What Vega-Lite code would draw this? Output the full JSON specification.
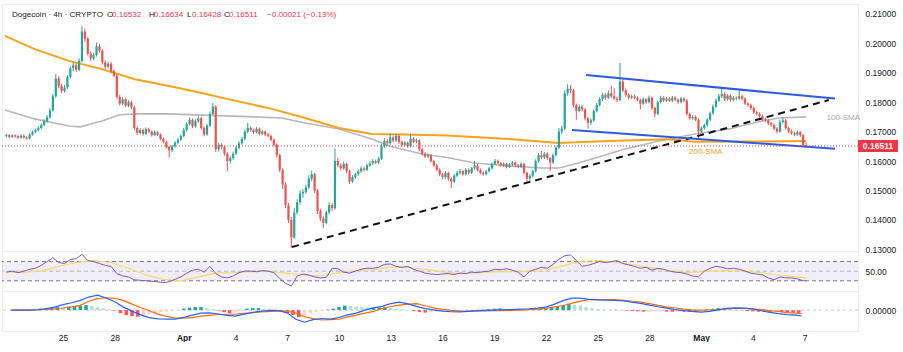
{
"$schema":"https://vega.github.io/schema/vega-lite/v6.json",
"background":"#ffffff",
"padding":{"top":3,"left":0,"right":0,"bottom":0},
"spacing":0,
"bounds":"flush",
"config":{"font":"Liberation Sans","view":{"stroke":"#ececec"},"axis":{"labelFont":"Liberation Sans","labelFontSize":8.5,"labelColor":"#131722","ticks":false,"domain":false,"grid":false,"labelOverlap":false}},
"datasets":{
"candles":[
{"t":"2025-03-22T00:00","o":0.1685,"h":0.1693,"l":0.1680,"c":0.1688},
{"t":"2025-03-22T04:00","o":0.1688,"h":0.1692,"l":0.1677,"c":0.1682},
{"t":"2025-03-22T08:00","o":0.1682,"h":0.1691,"l":0.1678,"c":0.1687},
{"t":"2025-03-22T12:00","o":0.1687,"h":0.1690,"l":0.1679,"c":0.1684},
{"t":"2025-03-22T16:00","o":0.1684,"h":0.1688,"l":0.1674,"c":0.1679},
{"t":"2025-03-22T20:00","o":0.1679,"h":0.1690,"l":0.1676,"c":0.1686},
{"t":"2025-03-23T00:00","o":0.1686,"h":0.1690,"l":0.1676,"c":0.1680},
{"t":"2025-03-23T04:00","o":0.1680,"h":0.1684,"l":0.1672,"c":0.1676},
{"t":"2025-03-23T08:00","o":0.1676,"h":0.1694,"l":0.1673,"c":0.1690},
{"t":"2025-03-23T12:00","o":0.1690,"h":0.1703,"l":0.1686,"c":0.1698},
{"t":"2025-03-23T16:00","o":0.1698,"h":0.1710,"l":0.1694,"c":0.1705},
{"t":"2025-03-23T20:00","o":0.1705,"h":0.1718,"l":0.1701,"c":0.1712},
{"t":"2025-03-24T00:00","o":0.1712,"h":0.1728,"l":0.1708,"c":0.1722},
{"t":"2025-03-24T04:00","o":0.1722,"h":0.1742,"l":0.1718,"c":0.1735},
{"t":"2025-03-24T08:00","o":0.1735,"h":0.1756,"l":0.1730,"c":0.1748},
{"t":"2025-03-24T12:00","o":0.1748,"h":0.1780,"l":0.1744,"c":0.1772},
{"t":"2025-03-24T16:00","o":0.1772,"h":0.1828,"l":0.1768,"c":0.1820},
{"t":"2025-03-24T20:00","o":0.1820,"h":0.1895,"l":0.1815,"c":0.1880},
{"t":"2025-03-25T00:00","o":0.1880,"h":0.1888,"l":0.1848,"c":0.1855},
{"t":"2025-03-25T04:00","o":0.1855,"h":0.1862,"l":0.1830,"c":0.1838},
{"t":"2025-03-25T08:00","o":0.1838,"h":0.1858,"l":0.1832,"c":0.1850},
{"t":"2025-03-25T12:00","o":0.1850,"h":0.1892,"l":0.1845,"c":0.1885},
{"t":"2025-03-25T16:00","o":0.1885,"h":0.1922,"l":0.1880,"c":0.1915},
{"t":"2025-03-25T20:00","o":0.1915,"h":0.1935,"l":0.1905,"c":0.1925},
{"t":"2025-03-26T00:00","o":0.1925,"h":0.1932,"l":0.1902,"c":0.1910},
{"t":"2025-03-26T04:00","o":0.1910,"h":0.1948,"l":0.1905,"c":0.1940},
{"t":"2025-03-26T08:00","o":0.1940,"h":0.2058,"l":0.1935,"c":0.2040},
{"t":"2025-03-26T12:00","o":0.2040,"h":0.2050,"l":0.2005,"c":0.2015},
{"t":"2025-03-26T16:00","o":0.2015,"h":0.2022,"l":0.1958,"c":0.1965},
{"t":"2025-03-26T20:00","o":0.1965,"h":0.1972,"l":0.1940,"c":0.1948},
{"t":"2025-03-27T00:00","o":0.1948,"h":0.1968,"l":0.1942,"c":0.1960},
{"t":"2025-03-27T04:00","o":0.1960,"h":0.2002,"l":0.1955,"c":0.1990},
{"t":"2025-03-27T08:00","o":0.1990,"h":0.1998,"l":0.1968,"c":0.1975},
{"t":"2025-03-27T12:00","o":0.1975,"h":0.1980,"l":0.1928,"c":0.1935},
{"t":"2025-03-27T16:00","o":0.1935,"h":0.1942,"l":0.1912,"c":0.1920},
{"t":"2025-03-27T20:00","o":0.1920,"h":0.1938,"l":0.1914,"c":0.1930},
{"t":"2025-03-28T00:00","o":0.1930,"h":0.1936,"l":0.1898,"c":0.1905},
{"t":"2025-03-28T04:00","o":0.1905,"h":0.1912,"l":0.1884,"c":0.1890},
{"t":"2025-03-28T08:00","o":0.1890,"h":0.1895,"l":0.1810,"c":0.1818},
{"t":"2025-03-28T12:00","o":0.1818,"h":0.1825,"l":0.1788,"c":0.1795},
{"t":"2025-03-28T16:00","o":0.1795,"h":0.1818,"l":0.1790,"c":0.1810},
{"t":"2025-03-28T20:00","o":0.1810,"h":0.1815,"l":0.1782,"c":0.1788},
{"t":"2025-03-29T00:00","o":0.1788,"h":0.1806,"l":0.1783,"c":0.1800},
{"t":"2025-03-29T04:00","o":0.1800,"h":0.1805,"l":0.1776,"c":0.1782},
{"t":"2025-03-29T08:00","o":0.1782,"h":0.1788,"l":0.1705,"c":0.1712},
{"t":"2025-03-29T12:00","o":0.1712,"h":0.1718,"l":0.1688,"c":0.1695},
{"t":"2025-03-29T16:00","o":0.1695,"h":0.1712,"l":0.1690,"c":0.1705},
{"t":"2025-03-29T20:00","o":0.1705,"h":0.1710,"l":0.1686,"c":0.1692},
{"t":"2025-03-30T00:00","o":0.1692,"h":0.1714,"l":0.1688,"c":0.1708},
{"t":"2025-03-30T04:00","o":0.1708,"h":0.1713,"l":0.1695,"c":0.1700},
{"t":"2025-03-30T08:00","o":0.1700,"h":0.1704,"l":0.1683,"c":0.1688},
{"t":"2025-03-30T12:00","o":0.1688,"h":0.1704,"l":0.1684,"c":0.1698},
{"t":"2025-03-30T16:00","o":0.1698,"h":0.1702,"l":0.1685,"c":0.1690},
{"t":"2025-03-30T20:00","o":0.1690,"h":0.1694,"l":0.1670,"c":0.1675},
{"t":"2025-03-31T00:00","o":0.1675,"h":0.1680,"l":0.1660,"c":0.1665},
{"t":"2025-03-31T04:00","o":0.1665,"h":0.1670,"l":0.1642,"c":0.1648},
{"t":"2025-03-31T08:00","o":0.1648,"h":0.1652,"l":0.1612,"c":0.1636},
{"t":"2025-03-31T12:00","o":0.1636,"h":0.1655,"l":0.1630,"c":0.1650},
{"t":"2025-03-31T16:00","o":0.1650,"h":0.1668,"l":0.1645,"c":0.1662},
{"t":"2025-03-31T20:00","o":0.1662,"h":0.1678,"l":0.1657,"c":0.1672},
{"t":"2025-04-01T00:00","o":0.1672,"h":0.1690,"l":0.1668,"c":0.1685},
{"t":"2025-04-01T04:00","o":0.1685,"h":0.1712,"l":0.1680,"c":0.1705},
{"t":"2025-04-01T08:00","o":0.1705,"h":0.1732,"l":0.1700,"c":0.1725},
{"t":"2025-04-01T12:00","o":0.1725,"h":0.1748,"l":0.1720,"c":0.1740},
{"t":"2025-04-01T16:00","o":0.1740,"h":0.1745,"l":0.1712,"c":0.1718},
{"t":"2025-04-01T20:00","o":0.1718,"h":0.1742,"l":0.1713,"c":0.1735},
{"t":"2025-04-02T00:00","o":0.1735,"h":0.1752,"l":0.1730,"c":0.1745},
{"t":"2025-04-02T04:00","o":0.1745,"h":0.1750,"l":0.1706,"c":0.1712},
{"t":"2025-04-02T08:00","o":0.1712,"h":0.1718,"l":0.1684,"c":0.1690},
{"t":"2025-04-02T12:00","o":0.1690,"h":0.1726,"l":0.1686,"c":0.1720},
{"t":"2025-04-02T16:00","o":0.1720,"h":0.1768,"l":0.1715,"c":0.1760},
{"t":"2025-04-02T20:00","o":0.1760,"h":0.1797,"l":0.1755,"c":0.1785},
{"t":"2025-04-03T00:00","o":0.1785,"h":0.1790,"l":0.1630,"c":0.1640},
{"t":"2025-04-03T04:00","o":0.1640,"h":0.1662,"l":0.1632,"c":0.1655},
{"t":"2025-04-03T08:00","o":0.1655,"h":0.1660,"l":0.1640,"c":0.1648},
{"t":"2025-04-03T12:00","o":0.1648,"h":0.1652,"l":0.1618,"c":0.1625},
{"t":"2025-04-03T16:00","o":0.1625,"h":0.1630,"l":0.1565,"c":0.1600},
{"t":"2025-04-03T20:00","o":0.1600,"h":0.1618,"l":0.1592,"c":0.1610},
{"t":"2025-04-04T00:00","o":0.1610,"h":0.1632,"l":0.1604,"c":0.1625},
{"t":"2025-04-04T04:00","o":0.1625,"h":0.1652,"l":0.1620,"c":0.1645},
{"t":"2025-04-04T08:00","o":0.1645,"h":0.1667,"l":0.1640,"c":0.1660},
{"t":"2025-04-04T12:00","o":0.1660,"h":0.1682,"l":0.1655,"c":0.1675},
{"t":"2025-04-04T16:00","o":0.1675,"h":0.1707,"l":0.1670,"c":0.1700},
{"t":"2025-04-04T20:00","o":0.1700,"h":0.1730,"l":0.1695,"c":0.1712},
{"t":"2025-04-05T00:00","o":0.1712,"h":0.1718,"l":0.1700,"c":0.1705},
{"t":"2025-04-05T04:00","o":0.1705,"h":0.1710,"l":0.1692,"c":0.1698},
{"t":"2025-04-05T08:00","o":0.1698,"h":0.1715,"l":0.1694,"c":0.1710},
{"t":"2025-04-05T12:00","o":0.1710,"h":0.1714,"l":0.1687,"c":0.1692},
{"t":"2025-04-05T16:00","o":0.1692,"h":0.1706,"l":0.1688,"c":0.1700},
{"t":"2025-04-05T20:00","o":0.1700,"h":0.1704,"l":0.1685,"c":0.1690},
{"t":"2025-04-06T00:00","o":0.1690,"h":0.1696,"l":0.1680,"c":0.1685},
{"t":"2025-04-06T04:00","o":0.1685,"h":0.1690,"l":0.1667,"c":0.1672},
{"t":"2025-04-06T08:00","o":0.1672,"h":0.1677,"l":0.1650,"c":0.1655},
{"t":"2025-04-06T12:00","o":0.1655,"h":0.1660,"l":0.1612,"c":0.1620},
{"t":"2025-04-06T16:00","o":0.1620,"h":0.1625,"l":0.1562,"c":0.1570},
{"t":"2025-04-06T20:00","o":0.1570,"h":0.1575,"l":0.1505,"c":0.1520},
{"t":"2025-04-07T00:00","o":0.1520,"h":0.1528,"l":0.1440,"c":0.1450},
{"t":"2025-04-07T04:00","o":0.1450,"h":0.1458,"l":0.1390,"c":0.1400},
{"t":"2025-04-07T08:00","o":0.1400,"h":0.1410,"l":0.1305,"c":0.1340},
{"t":"2025-04-07T12:00","o":0.1340,"h":0.1440,"l":0.1335,"c":0.1425},
{"t":"2025-04-07T16:00","o":0.1425,"h":0.1470,"l":0.1418,"c":0.1460},
{"t":"2025-04-07T20:00","o":0.1460,"h":0.1500,"l":0.1452,"c":0.1490},
{"t":"2025-04-08T00:00","o":0.1490,"h":0.1505,"l":0.1475,"c":0.1495},
{"t":"2025-04-08T04:00","o":0.1495,"h":0.1520,"l":0.1488,"c":0.1510},
{"t":"2025-04-08T08:00","o":0.1510,"h":0.1552,"l":0.1505,"c":0.1540},
{"t":"2025-04-08T12:00","o":0.1540,"h":0.1568,"l":0.1532,"c":0.1555},
{"t":"2025-04-08T16:00","o":0.1555,"h":0.1560,"l":0.1492,"c":0.1500},
{"t":"2025-04-08T20:00","o":0.1500,"h":0.1505,"l":0.1420,"c":0.1430},
{"t":"2025-04-09T00:00","o":0.1430,"h":0.1438,"l":0.1395,"c":0.1405},
{"t":"2025-04-09T04:00","o":0.1405,"h":0.1412,"l":0.1372,"c":0.1390},
{"t":"2025-04-09T08:00","o":0.1390,"h":0.1432,"l":0.1385,"c":0.1425},
{"t":"2025-04-09T12:00","o":0.1425,"h":0.1460,"l":0.1418,"c":0.1450},
{"t":"2025-04-09T16:00","o":0.1450,"h":0.1458,"l":0.1430,"c":0.1440},
{"t":"2025-04-09T20:00","o":0.1440,"h":0.1643,"l":0.1435,"c":0.1600},
{"t":"2025-04-10T00:00","o":0.1600,"h":0.1612,"l":0.1578,"c":0.1585},
{"t":"2025-04-10T04:00","o":0.1585,"h":0.1592,"l":0.1568,"c":0.1575},
{"t":"2025-04-10T08:00","o":0.1575,"h":0.1598,"l":0.1570,"c":0.1590},
{"t":"2025-04-10T12:00","o":0.1590,"h":0.1595,"l":0.1558,"c":0.1565},
{"t":"2025-04-10T16:00","o":0.1565,"h":0.1570,"l":0.1522,"c":0.1530},
{"t":"2025-04-10T20:00","o":0.1530,"h":0.1552,"l":0.1525,"c":0.1545},
{"t":"2025-04-11T00:00","o":0.1545,"h":0.1560,"l":0.1540,"c":0.1555},
{"t":"2025-04-11T04:00","o":0.1555,"h":0.1572,"l":0.1550,"c":0.1565},
{"t":"2025-04-11T08:00","o":0.1565,"h":0.1582,"l":0.1560,"c":0.1575},
{"t":"2025-04-11T12:00","o":0.1575,"h":0.1580,"l":0.1564,"c":0.1570},
{"t":"2025-04-11T16:00","o":0.1570,"h":0.1592,"l":0.1566,"c":0.1585},
{"t":"2025-04-11T20:00","o":0.1585,"h":0.1600,"l":0.1580,"c":0.1592},
{"t":"2025-04-12T00:00","o":0.1592,"h":0.1606,"l":0.1587,"c":0.1600},
{"t":"2025-04-12T04:00","o":0.1600,"h":0.1605,"l":0.1590,"c":0.1595},
{"t":"2025-04-12T08:00","o":0.1595,"h":0.1614,"l":0.1590,"c":0.1608},
{"t":"2025-04-12T12:00","o":0.1608,"h":0.1658,"l":0.1604,"c":0.1650},
{"t":"2025-04-12T16:00","o":0.1650,"h":0.1678,"l":0.1645,"c":0.1668},
{"t":"2025-04-12T20:00","o":0.1668,"h":0.1675,"l":0.1654,"c":0.1660},
{"t":"2025-04-13T00:00","o":0.1660,"h":0.1693,"l":0.1655,"c":0.1680},
{"t":"2025-04-13T04:00","o":0.1680,"h":0.1686,"l":0.1664,"c":0.1670},
{"t":"2025-04-13T08:00","o":0.1670,"h":0.1692,"l":0.1665,"c":0.1685},
{"t":"2025-04-13T12:00","o":0.1685,"h":0.1690,"l":0.1658,"c":0.1665},
{"t":"2025-04-13T16:00","o":0.1665,"h":0.1670,"l":0.1648,"c":0.1655},
{"t":"2025-04-13T20:00","o":0.1655,"h":0.1668,"l":0.1650,"c":0.1662},
{"t":"2025-04-14T00:00","o":0.1662,"h":0.1666,"l":0.1645,"c":0.1650},
{"t":"2025-04-14T04:00","o":0.1650,"h":0.1693,"l":0.1646,"c":0.1675},
{"t":"2025-04-14T08:00","o":0.1675,"h":0.1680,"l":0.1660,"c":0.1665},
{"t":"2025-04-14T12:00","o":0.1665,"h":0.1676,"l":0.1660,"c":0.1670},
{"t":"2025-04-14T16:00","o":0.1670,"h":0.1674,"l":0.1634,"c":0.1640},
{"t":"2025-04-14T20:00","o":0.1640,"h":0.1645,"l":0.1618,"c":0.1625},
{"t":"2025-04-15T00:00","o":0.1625,"h":0.1630,"l":0.1610,"c":0.1615},
{"t":"2025-04-15T04:00","o":0.1615,"h":0.1626,"l":0.1610,"c":0.1620},
{"t":"2025-04-15T08:00","o":0.1620,"h":0.1624,"l":0.1595,"c":0.1600},
{"t":"2025-04-15T12:00","o":0.1600,"h":0.1604,"l":0.1580,"c":0.1585},
{"t":"2025-04-15T16:00","o":0.1585,"h":0.1590,"l":0.1565,"c":0.1570},
{"t":"2025-04-15T20:00","o":0.1570,"h":0.1575,"l":0.1548,"c":0.1555},
{"t":"2025-04-16T00:00","o":0.1555,"h":0.1560,"l":0.1538,"c":0.1545},
{"t":"2025-04-16T04:00","o":0.1545,"h":0.1566,"l":0.1540,"c":0.1560},
{"t":"2025-04-16T08:00","o":0.1560,"h":0.1564,"l":0.1533,"c":0.1540},
{"t":"2025-04-16T12:00","o":0.1540,"h":0.1545,"l":0.1508,"c":0.1530},
{"t":"2025-04-16T16:00","o":0.1530,"h":0.1556,"l":0.1525,"c":0.1550},
{"t":"2025-04-16T20:00","o":0.1550,"h":0.1566,"l":0.1545,"c":0.1560},
{"t":"2025-04-17T00:00","o":0.1560,"h":0.1572,"l":0.1554,"c":0.1565},
{"t":"2025-04-17T04:00","o":0.1565,"h":0.1570,"l":0.1550,"c":0.1555},
{"t":"2025-04-17T08:00","o":0.1555,"h":0.1576,"l":0.1550,"c":0.1570},
{"t":"2025-04-17T12:00","o":0.1570,"h":0.1575,"l":0.1554,"c":0.1560},
{"t":"2025-04-17T16:00","o":0.1560,"h":0.1580,"l":0.1556,"c":0.1575},
{"t":"2025-04-17T20:00","o":0.1575,"h":0.1600,"l":0.1570,"c":0.1585},
{"t":"2025-04-18T00:00","o":0.1585,"h":0.1590,"l":0.1565,"c":0.1570},
{"t":"2025-04-18T04:00","o":0.1570,"h":0.1575,"l":0.1555,"c":0.1560},
{"t":"2025-04-18T08:00","o":0.1560,"h":0.1565,"l":0.1550,"c":0.1555},
{"t":"2025-04-18T12:00","o":0.1555,"h":0.1570,"l":0.1551,"c":0.1565},
{"t":"2025-04-18T16:00","o":0.1565,"h":0.1580,"l":0.1561,"c":0.1575},
{"t":"2025-04-18T20:00","o":0.1575,"h":0.1596,"l":0.1571,"c":0.1590},
{"t":"2025-04-19T00:00","o":0.1590,"h":0.1607,"l":0.1586,"c":0.1600},
{"t":"2025-04-19T04:00","o":0.1600,"h":0.1605,"l":0.1587,"c":0.1592},
{"t":"2025-04-19T08:00","o":0.1592,"h":0.1597,"l":0.1580,"c":0.1585},
{"t":"2025-04-19T12:00","o":0.1585,"h":0.1595,"l":0.1580,"c":0.1590},
{"t":"2025-04-19T16:00","o":0.1590,"h":0.1594,"l":0.1575,"c":0.1580},
{"t":"2025-04-19T20:00","o":0.1580,"h":0.1593,"l":0.1576,"c":0.1588},
{"t":"2025-04-20T00:00","o":0.1588,"h":0.1600,"l":0.1583,"c":0.1595},
{"t":"2025-04-20T04:00","o":0.1595,"h":0.1599,"l":0.1580,"c":0.1585},
{"t":"2025-04-20T08:00","o":0.1585,"h":0.1590,"l":0.1575,"c":0.1580},
{"t":"2025-04-20T12:00","o":0.1580,"h":0.1596,"l":0.1576,"c":0.1590},
{"t":"2025-04-20T16:00","o":0.1590,"h":0.1594,"l":0.1555,"c":0.1560},
{"t":"2025-04-20T20:00","o":0.1560,"h":0.1564,"l":0.1525,"c":0.1540},
{"t":"2025-04-21T00:00","o":0.1540,"h":0.1556,"l":0.1533,"c":0.1550},
{"t":"2025-04-21T04:00","o":0.1550,"h":0.1570,"l":0.1545,"c":0.1565},
{"t":"2025-04-21T08:00","o":0.1565,"h":0.1606,"l":0.1560,"c":0.1600},
{"t":"2025-04-21T12:00","o":0.1600,"h":0.1627,"l":0.1595,"c":0.1620},
{"t":"2025-04-21T16:00","o":0.1620,"h":0.1634,"l":0.1606,"c":0.1612},
{"t":"2025-04-21T20:00","o":0.1612,"h":0.1630,"l":0.1607,"c":0.1625},
{"t":"2025-04-22T00:00","o":0.1625,"h":0.1630,"l":0.1604,"c":0.1610},
{"t":"2025-04-22T04:00","o":0.1610,"h":0.1614,"l":0.1566,"c":0.1595},
{"t":"2025-04-22T08:00","o":0.1595,"h":0.1626,"l":0.1590,"c":0.1620},
{"t":"2025-04-22T12:00","o":0.1620,"h":0.1652,"l":0.1615,"c":0.1645},
{"t":"2025-04-22T16:00","o":0.1645,"h":0.1712,"l":0.1640,"c":0.1700},
{"t":"2025-04-22T20:00","o":0.1700,"h":0.1720,"l":0.1692,"c":0.1710},
{"t":"2025-04-23T00:00","o":0.1710,"h":0.1840,"l":0.1705,"c":0.1830},
{"t":"2025-04-23T04:00","o":0.1830,"h":0.1861,"l":0.1822,"c":0.1845},
{"t":"2025-04-23T08:00","o":0.1845,"h":0.1858,"l":0.1830,"c":0.1840},
{"t":"2025-04-23T12:00","o":0.1840,"h":0.1845,"l":0.1782,"c":0.1790},
{"t":"2025-04-23T16:00","o":0.1790,"h":0.1795,"l":0.1740,"c":0.1770},
{"t":"2025-04-23T20:00","o":0.1770,"h":0.1792,"l":0.1765,"c":0.1785},
{"t":"2025-04-24T00:00","o":0.1785,"h":0.1790,"l":0.1768,"c":0.1775},
{"t":"2025-04-24T04:00","o":0.1775,"h":0.1780,"l":0.1738,"c":0.1745},
{"t":"2025-04-24T08:00","o":0.1745,"h":0.1750,"l":0.1710,"c":0.1730},
{"t":"2025-04-24T12:00","o":0.1730,"h":0.1745,"l":0.1722,"c":0.1738},
{"t":"2025-04-24T16:00","o":0.1738,"h":0.1776,"l":0.1733,"c":0.1770},
{"t":"2025-04-24T20:00","o":0.1770,"h":0.1797,"l":0.1765,"c":0.1790},
{"t":"2025-04-25T00:00","o":0.1790,"h":0.1817,"l":0.1785,"c":0.1810},
{"t":"2025-04-25T04:00","o":0.1810,"h":0.1832,"l":0.1804,"c":0.1825},
{"t":"2025-04-25T08:00","o":0.1825,"h":0.1830,"l":0.1808,"c":0.1815},
{"t":"2025-04-25T12:00","o":0.1815,"h":0.1840,"l":0.1810,"c":0.1830},
{"t":"2025-04-25T16:00","o":0.1830,"h":0.1855,"l":0.1814,"c":0.1820},
{"t":"2025-04-25T20:00","o":0.1820,"h":0.1848,"l":0.1806,"c":0.1812},
{"t":"2025-04-26T00:00","o":0.1812,"h":0.1818,"l":0.1800,"c":0.1808},
{"t":"2025-04-26T04:00","o":0.1808,"h":0.1933,"l":0.1803,"c":0.1870},
{"t":"2025-04-26T08:00","o":0.1870,"h":0.1878,"l":0.1834,"c":0.1840},
{"t":"2025-04-26T12:00","o":0.1840,"h":0.1846,"l":0.1818,"c":0.1825},
{"t":"2025-04-26T16:00","o":0.1825,"h":0.1830,"l":0.1808,"c":0.1815},
{"t":"2025-04-26T20:00","o":0.1815,"h":0.1826,"l":0.1810,"c":0.1820},
{"t":"2025-04-27T00:00","o":0.1820,"h":0.1826,"l":0.1810,"c":0.1815},
{"t":"2025-04-27T04:00","o":0.1815,"h":0.1820,"l":0.1802,"c":0.1808},
{"t":"2025-04-27T08:00","o":0.1808,"h":0.1812,"l":0.1775,"c":0.1795},
{"t":"2025-04-27T12:00","o":0.1795,"h":0.1816,"l":0.1790,"c":0.1810},
{"t":"2025-04-27T16:00","o":0.1810,"h":0.1814,"l":0.1794,"c":0.1800},
{"t":"2025-04-27T20:00","o":0.1800,"h":0.1822,"l":0.1796,"c":0.1815},
{"t":"2025-04-28T00:00","o":0.1815,"h":0.1820,"l":0.1774,"c":0.1780},
{"t":"2025-04-28T04:00","o":0.1780,"h":0.1785,"l":0.1748,"c":0.1760},
{"t":"2025-04-28T08:00","o":0.1760,"h":0.1806,"l":0.1755,"c":0.1800},
{"t":"2025-04-28T12:00","o":0.1800,"h":0.1822,"l":0.1795,"c":0.1815},
{"t":"2025-04-28T16:00","o":0.1815,"h":0.1820,"l":0.1800,"c":0.1805},
{"t":"2025-04-28T20:00","o":0.1805,"h":0.1818,"l":0.1800,"c":0.1812},
{"t":"2025-04-29T00:00","o":0.1812,"h":0.1817,"l":0.1800,"c":0.1805},
{"t":"2025-04-29T04:00","o":0.1805,"h":0.1821,"l":0.1800,"c":0.1815},
{"t":"2025-04-29T08:00","o":0.1815,"h":0.1820,"l":0.1803,"c":0.1808},
{"t":"2025-04-29T12:00","o":0.1808,"h":0.1812,"l":0.1794,"c":0.1800},
{"t":"2025-04-29T16:00","o":0.1800,"h":0.1818,"l":0.1796,"c":0.1812},
{"t":"2025-04-29T20:00","o":0.1812,"h":0.1816,"l":0.1800,"c":0.1805},
{"t":"2025-04-30T00:00","o":0.1805,"h":0.1810,"l":0.1754,"c":0.1760},
{"t":"2025-04-30T04:00","o":0.1760,"h":0.1765,"l":0.1740,"c":0.1745},
{"t":"2025-04-30T08:00","o":0.1745,"h":0.1756,"l":0.1740,"c":0.1750},
{"t":"2025-04-30T12:00","o":0.1750,"h":0.1755,"l":0.1735,"c":0.1740},
{"t":"2025-04-30T16:00","o":0.1740,"h":0.1745,"l":0.1678,"c":0.1700},
{"t":"2025-04-30T20:00","o":0.1700,"h":0.1718,"l":0.1695,"c":0.1712},
{"t":"2025-05-01T00:00","o":0.1712,"h":0.1728,"l":0.1706,"c":0.1722},
{"t":"2025-05-01T04:00","o":0.1722,"h":0.1746,"l":0.1717,"c":0.1740},
{"t":"2025-05-01T08:00","o":0.1740,"h":0.1768,"l":0.1735,"c":0.1762},
{"t":"2025-05-01T12:00","o":0.1762,"h":0.1792,"l":0.1757,"c":0.1785},
{"t":"2025-05-01T16:00","o":0.1785,"h":0.1812,"l":0.1780,"c":0.1805},
{"t":"2025-05-01T20:00","o":0.1805,"h":0.1828,"l":0.1800,"c":0.1820},
{"t":"2025-05-02T00:00","o":0.1820,"h":0.1848,"l":0.1814,"c":0.1828},
{"t":"2025-05-02T04:00","o":0.1828,"h":0.1834,"l":0.1804,"c":0.1810},
{"t":"2025-05-02T08:00","o":0.1810,"h":0.1828,"l":0.1805,"c":0.1822},
{"t":"2025-05-02T12:00","o":0.1822,"h":0.1826,"l":0.1802,"c":0.1808},
{"t":"2025-05-02T16:00","o":0.1808,"h":0.1821,"l":0.1803,"c":0.1815},
{"t":"2025-05-02T20:00","o":0.1815,"h":0.1820,"l":0.1806,"c":0.1812},
{"t":"2025-05-03T00:00","o":0.1812,"h":0.1840,"l":0.1808,"c":0.1820},
{"t":"2025-05-03T04:00","o":0.1820,"h":0.1826,"l":0.1806,"c":0.1812},
{"t":"2025-05-03T08:00","o":0.1812,"h":0.1816,"l":0.1790,"c":0.1795},
{"t":"2025-05-03T12:00","o":0.1795,"h":0.1800,"l":0.1784,"c":0.1790},
{"t":"2025-05-03T16:00","o":0.1790,"h":0.1795,"l":0.1774,"c":0.1780},
{"t":"2025-05-03T20:00","o":0.1780,"h":0.1785,"l":0.1760,"c":0.1765},
{"t":"2025-05-04T00:00","o":0.1765,"h":0.1770,"l":0.1755,"c":0.1760},
{"t":"2025-05-04T04:00","o":0.1760,"h":0.1765,"l":0.1747,"c":0.1752},
{"t":"2025-05-04T08:00","o":0.1752,"h":0.1757,"l":0.1737,"c":0.1742},
{"t":"2025-05-04T12:00","o":0.1742,"h":0.1747,"l":0.1733,"c":0.1738},
{"t":"2025-05-04T16:00","o":0.1738,"h":0.1742,"l":0.1722,"c":0.1728},
{"t":"2025-05-04T20:00","o":0.1728,"h":0.1733,"l":0.1716,"c":0.1722},
{"t":"2025-05-05T00:00","o":0.1722,"h":0.1727,"l":0.1704,"c":0.1710},
{"t":"2025-05-05T04:00","o":0.1710,"h":0.1715,"l":0.1694,"c":0.1700},
{"t":"2025-05-05T08:00","o":0.1700,"h":0.1740,"l":0.1696,"c":0.1732},
{"t":"2025-05-05T12:00","o":0.1732,"h":0.1749,"l":0.1727,"c":0.1738},
{"t":"2025-05-05T16:00","o":0.1738,"h":0.1742,"l":0.1706,"c":0.1712},
{"t":"2025-05-05T20:00","o":0.1712,"h":0.1717,"l":0.1694,"c":0.1700},
{"t":"2025-05-06T00:00","o":0.1700,"h":0.1706,"l":0.1689,"c":0.1695},
{"t":"2025-05-06T04:00","o":0.1695,"h":0.1700,"l":0.1684,"c":0.1690},
{"t":"2025-05-06T08:00","o":0.1690,"h":0.1704,"l":0.1685,"c":0.1698},
{"t":"2025-05-06T12:00","o":0.1698,"h":0.1702,"l":0.1682,"c":0.1688},
{"t":"2025-05-06T16:00","o":0.1688,"h":0.1692,"l":0.1650,"c":0.16532},
{"t":"2025-05-06T20:00","o":0.16532,"h":0.16634,"l":0.16428,"c":0.16511}
],
"sma100":[
{"t":"2025-03-21T22:00","p":0.1773},{"t":"2025-03-23T15:00","p":0.1743},{"t":"2025-03-25T14:00","p":0.1719},{"t":"2025-03-26T05:20","p":0.1716},{"t":"2025-03-27T11:30","p":0.1736},{"t":"2025-03-28T11:00","p":0.1756},{"t":"2025-03-29T09:00","p":0.1760},{"t":"2025-03-31T07:40","p":0.1760},{"t":"2025-04-02T05:00","p":0.1756},{"t":"2025-04-05T06:00","p":0.1750},{"t":"2025-04-06T19:00","p":0.1746},{"t":"2025-04-08T02:50","p":0.1729},{"t":"2025-04-10T01:30","p":0.1709},{"t":"2025-04-11T22:50","p":0.1675},{"t":"2025-04-12T22:20","p":0.1651},{"t":"2025-04-14T19:40","p":0.1624},{"t":"2025-04-16T06:00","p":0.1612},{"t":"2025-04-17T20:40","p":0.1593},{"t":"2025-04-19T19:20","p":0.1583},{"t":"2025-04-21T16:40","p":0.1576},{"t":"2025-04-22T16:00","p":0.1576},{"t":"2025-04-23T14:00","p":0.1590},{"t":"2025-04-24T13:30","p":0.1607},{"t":"2025-04-26T10:50","p":0.1641},{"t":"2025-04-28T09:40","p":0.1668},{"t":"2025-04-30T11:10","p":0.1692},{"t":"2025-05-02T10:00","p":0.1709},{"t":"2025-05-04T07:20","p":0.1736},{"t":"2025-05-05T06:40","p":0.1746},{"t":"2025-05-06T20:00","p":0.1750}
],
"sma200":[
{"t":"2025-03-21T22:00","p":0.2025},{"t":"2025-03-23T15:00","p":0.1980},{"t":"2025-03-25T14:00","p":0.1940},{"t":"2025-03-27T11:30","p":0.1912},{"t":"2025-03-29T09:00","p":0.1878},{"t":"2025-03-31T07:40","p":0.1855},{"t":"2025-04-02T05:00","p":0.1831},{"t":"2025-04-03T15:30","p":0.1811},{"t":"2025-04-06T05:20","p":0.1777},{"t":"2025-04-08T02:50","p":0.1746},{"t":"2025-04-10T01:30","p":0.1712},{"t":"2025-04-11T22:50","p":0.1692},{"t":"2025-04-13T20:20","p":0.1690},{"t":"2025-04-16T06:00","p":0.1687},{"t":"2025-04-19T19:20","p":0.1675},{"t":"2025-04-22T16:00","p":0.1661},{"t":"2025-04-25T12:50","p":0.1668},{"t":"2025-04-28T20:40","p":0.1674},{"t":"2025-04-30T11:10","p":0.1665},{"t":"2025-05-03T08:00","p":0.1666},{"t":"2025-05-06T20:00","p":0.1668}
],
"trend":[{"t":"2025-04-07T09:00","p":0.1308},{"t":"2025-05-08T03:20","p":0.1807}],
"channel":[{"t":"2025-04-24T05:20","p":0.1892,"k":"up"},{"t":"2025-05-08T11:40","p":0.1812,"k":"up"},{"t":"2025-04-23T10:00","p":0.1705,"k":"low"},{"t":"2025-05-08T11:40","p":0.1642,"k":"low"}],
"lastprice":[{"p":0.16511}],
"notes":[
{"t":"2025-03-22T07:40","p":0.2095,"label":"Dogecoin · 4h · CRYPTO","grp":"dark"},
{"t":"2025-03-27T18:25","p":0.2095,"label":"O","grp":"dark"},
{"t":"2025-03-28T01:18","p":0.2095,"label":"0.16532","grp":"red"},
{"t":"2025-03-30T04:12","p":0.2095,"label":"H","grp":"dark"},
{"t":"2025-03-30T11:06","p":0.2095,"label":"0.16634","grp":"red"},
{"t":"2025-04-01T08:30","p":0.2095,"label":"L","grp":"dark"},
{"t":"2025-04-01T15:18","p":0.2095,"label":"0.16428","grp":"red"},
{"t":"2025-04-03T11:24","p":0.2095,"label":"C","grp":"dark"},
{"t":"2025-04-03T18:18","p":0.2095,"label":"0.16511","grp":"red"},
{"t":"2025-04-05T22:30","p":0.2095,"label":"−0.00021 (−0.13%)","grp":"red"},
{"t":"2025-05-08T00:00","p":0.1746,"label":"100-SMA","grp":"sma100"},
{"t":"2025-04-30T02:50","p":0.1631,"label":"200-SMA","grp":"sma200"}
],
"pricebox":[{"t":"2025-05-09T19:24","t2":"2025-05-12T02:24","p":0.16715,"p2":0.16307,"tm":"2025-05-10T22:54","pm":0.16511,"label":"0.16511"}],
"band":[{"t":"2025-03-21T18:00","t2":"2025-05-09T19:24","a":70,"b":30}],
"levels":[{"lv":70,"k":"edge"},{"lv":30,"k":"edge"},{"lv":50,"k":"mid"}],
"rsi":[
{"t":"2025-03-22T00:00","r":48},{"t":"2025-03-22T08:00","r":50},{"t":"2025-03-22T16:00","r":47},
{"t":"2025-03-23T00:00","r":50},{"t":"2025-03-23T08:00","r":54},{"t":"2025-03-23T16:00","r":56},
{"t":"2025-03-24T00:00","r":62},{"t":"2025-03-24T08:00","r":70},{"t":"2025-03-24T16:00","r":78},
{"t":"2025-03-25T00:00","r":68},{"t":"2025-03-25T08:00","r":66},{"t":"2025-03-25T16:00","r":74},
{"t":"2025-03-26T00:00","r":76},{"t":"2025-03-26T08:00","r":85},{"t":"2025-03-26T16:00","r":72},
{"t":"2025-03-27T00:00","r":70},{"t":"2025-03-27T08:00","r":66},{"t":"2025-03-27T16:00","r":62},
{"t":"2025-03-28T00:00","r":60},{"t":"2025-03-28T08:00","r":45},{"t":"2025-03-28T16:00","r":40},
{"t":"2025-03-29T00:00","r":38},{"t":"2025-03-29T08:00","r":32},{"t":"2025-03-29T16:00","r":31},
{"t":"2025-03-30T00:00","r":30},{"t":"2025-03-30T08:00","r":29},{"t":"2025-03-30T16:00","r":28},
{"t":"2025-03-31T00:00","r":26},{"t":"2025-03-31T08:00","r":28},{"t":"2025-03-31T16:00","r":33},
{"t":"2025-04-01T00:00","r":38},{"t":"2025-04-01T08:00","r":46},{"t":"2025-04-01T16:00","r":52},
{"t":"2025-04-02T00:00","r":54},{"t":"2025-04-02T08:00","r":48},{"t":"2025-04-02T16:00","r":60},
{"t":"2025-04-03T00:00","r":45},{"t":"2025-04-03T08:00","r":38},{"t":"2025-04-03T16:00","r":36},
{"t":"2025-04-04T00:00","r":40},{"t":"2025-04-04T08:00","r":47},{"t":"2025-04-04T16:00","r":50},
{"t":"2025-04-05T00:00","r":50},{"t":"2025-04-05T08:00","r":49},{"t":"2025-04-05T16:00","r":51},
{"t":"2025-04-06T00:00","r":50},{"t":"2025-04-06T08:00","r":47},{"t":"2025-04-06T16:00","r":35},
{"t":"2025-04-07T00:00","r":25},{"t":"2025-04-07T08:00","r":19},{"t":"2025-04-07T16:00","r":40},
{"t":"2025-04-08T00:00","r":44},{"t":"2025-04-08T08:00","r":42},{"t":"2025-04-08T16:00","r":38},
{"t":"2025-04-09T00:00","r":36},{"t":"2025-04-09T08:00","r":37},{"t":"2025-04-09T16:00","r":56},
{"t":"2025-04-10T00:00","r":55},{"t":"2025-04-10T08:00","r":48},{"t":"2025-04-10T16:00","r":46},
{"t":"2025-04-11T00:00","r":50},{"t":"2025-04-11T08:00","r":54},{"t":"2025-04-11T16:00","r":56},
{"t":"2025-04-12T00:00","r":56},{"t":"2025-04-12T08:00","r":58},{"t":"2025-04-12T16:00","r":64},
{"t":"2025-04-13T00:00","r":65},{"t":"2025-04-13T08:00","r":60},{"t":"2025-04-13T16:00","r":58},
{"t":"2025-04-14T00:00","r":60},{"t":"2025-04-14T08:00","r":54},{"t":"2025-04-14T16:00","r":50},
{"t":"2025-04-15T00:00","r":46},{"t":"2025-04-15T08:00","r":44},{"t":"2025-04-15T16:00","r":43},
{"t":"2025-04-16T00:00","r":44},{"t":"2025-04-16T08:00","r":45},{"t":"2025-04-16T16:00","r":43},
{"t":"2025-04-17T00:00","r":46},{"t":"2025-04-17T08:00","r":45},{"t":"2025-04-17T16:00","r":48},
{"t":"2025-04-18T00:00","r":47},{"t":"2025-04-18T08:00","r":49},{"t":"2025-04-18T16:00","r":50},
{"t":"2025-04-19T00:00","r":54},{"t":"2025-04-19T08:00","r":53},{"t":"2025-04-19T16:00","r":55},
{"t":"2025-04-20T00:00","r":52},{"t":"2025-04-20T08:00","r":48},{"t":"2025-04-20T16:00","r":38},
{"t":"2025-04-21T00:00","r":50},{"t":"2025-04-21T08:00","r":54},{"t":"2025-04-21T16:00","r":58},
{"t":"2025-04-22T00:00","r":56},{"t":"2025-04-22T08:00","r":64},{"t":"2025-04-22T16:00","r":75},
{"t":"2025-04-23T00:00","r":82},{"t":"2025-04-23T08:00","r":84},{"t":"2025-04-23T16:00","r":72},
{"t":"2025-04-24T00:00","r":60},{"t":"2025-04-24T08:00","r":62},{"t":"2025-04-24T16:00","r":66},
{"t":"2025-04-25T00:00","r":70},{"t":"2025-04-25T08:00","r":68},{"t":"2025-04-25T16:00","r":70},
{"t":"2025-04-26T00:00","r":72},{"t":"2025-04-26T08:00","r":66},{"t":"2025-04-26T16:00","r":63},
{"t":"2025-04-27T00:00","r":60},{"t":"2025-04-27T08:00","r":56},{"t":"2025-04-27T16:00","r":58},
{"t":"2025-04-28T00:00","r":52},{"t":"2025-04-28T08:00","r":56},{"t":"2025-04-28T16:00","r":54},
{"t":"2025-04-29T00:00","r":50},{"t":"2025-04-29T08:00","r":48},{"t":"2025-04-29T16:00","r":47},
{"t":"2025-04-30T00:00","r":44},{"t":"2025-04-30T08:00","r":40},{"t":"2025-04-30T16:00","r":38},
{"t":"2025-05-01T00:00","r":50},{"t":"2025-05-01T08:00","r":56},{"t":"2025-05-01T16:00","r":60},
{"t":"2025-05-02T00:00","r":58},{"t":"2025-05-02T08:00","r":55},{"t":"2025-05-02T16:00","r":56},
{"t":"2025-05-03T00:00","r":54},{"t":"2025-05-03T08:00","r":50},{"t":"2025-05-03T16:00","r":46},
{"t":"2025-05-04T00:00","r":44},{"t":"2025-05-04T08:00","r":42},{"t":"2025-05-04T16:00","r":36},
{"t":"2025-05-05T00:00","r":32},{"t":"2025-05-05T08:00","r":38},{"t":"2025-05-05T16:00","r":36},
{"t":"2025-05-06T00:00","r":36},{"t":"2025-05-06T08:00","r":34},{"t":"2025-05-06T16:00","r":30},
{"t":"2025-05-06T20:00","r":30}
],
"rsima":[
{"t":"2025-03-22T00:00","r":48},{"t":"2025-03-23T00:00","r":48},{"t":"2025-03-24T00:00","r":50},{"t":"2025-03-25T00:00","r":60},{"t":"2025-03-26T00:00","r":68},{"t":"2025-03-27T00:00","r":72},{"t":"2025-03-28T00:00","r":68},{"t":"2025-03-29T00:00","r":56},{"t":"2025-03-30T00:00","r":42},{"t":"2025-03-31T00:00","r":33},{"t":"2025-04-01T00:00","r":30},{"t":"2025-04-02T00:00","r":38},{"t":"2025-04-03T00:00","r":46},{"t":"2025-04-04T00:00","r":47},{"t":"2025-04-05T00:00","r":49},{"t":"2025-04-06T00:00","r":50},{"t":"2025-04-07T00:00","r":46},{"t":"2025-04-08T00:00","r":42},{"t":"2025-04-09T00:00","r":40},{"t":"2025-04-10T00:00","r":46},{"t":"2025-04-11T00:00","r":50},{"t":"2025-04-12T00:00","r":53},{"t":"2025-04-13T00:00","r":58},{"t":"2025-04-14T00:00","r":58},{"t":"2025-04-15T00:00","r":54},{"t":"2025-04-16T00:00","r":48},{"t":"2025-04-17T00:00","r":45},{"t":"2025-04-18T00:00","r":47},{"t":"2025-04-19T00:00","r":49},{"t":"2025-04-20T00:00","r":49},{"t":"2025-04-21T00:00","r":49},{"t":"2025-04-22T00:00","r":53},{"t":"2025-04-23T00:00","r":62},{"t":"2025-04-24T00:00","r":71},{"t":"2025-04-25T00:00","r":72},{"t":"2025-04-26T00:00","r":68},{"t":"2025-04-27T00:00","r":63},{"t":"2025-04-28T00:00","r":57},{"t":"2025-04-29T00:00","r":51},{"t":"2025-04-30T00:00","r":47},{"t":"2025-05-01T00:00","r":49},{"t":"2025-05-02T00:00","r":51},{"t":"2025-05-03T00:00","r":51},{"t":"2025-05-04T00:00","r":48},{"t":"2025-05-05T00:00","r":43},{"t":"2025-05-06T00:00","r":39},{"t":"2025-05-06T20:00","r":36}
],
"macd":[
{"t":"2025-03-22T00:00","m":0,"s":0},{"t":"2025-03-22T12:00","m":0,"s":0},
{"t":"2025-03-23T00:00","m":0.00001,"s":0.00001},{"t":"2025-03-23T12:00","m":0.00004,"s":0.000025},
{"t":"2025-03-24T00:00","m":0.00012,"s":0.00007},{"t":"2025-03-24T12:00","m":0.0003,"s":0.00013},
{"t":"2025-03-25T00:00","m":0.00055,"s":0.00021},{"t":"2025-03-25T12:00","m":0.00073,"s":0.00033},
{"t":"2025-03-26T00:00","m":0.00097,"s":0.00048},{"t":"2025-03-26T12:00","m":0.0013,"s":0.00088},
{"t":"2025-03-27T00:00","m":0.00148,"s":0.00115},{"t":"2025-03-27T12:00","m":0.0012,"s":0.00123},
{"t":"2025-03-28T00:00","m":0.00084,"s":0.00116},{"t":"2025-03-28T12:00","m":0.0003,"s":0.00097},
{"t":"2025-03-29T00:00","m":-0.0001,"s":0.0006},{"t":"2025-03-29T12:00","m":-0.00047,"s":0.00026},
{"t":"2025-03-30T00:00","m":-0.00074,"s":-0.00006},{"t":"2025-03-30T12:00","m":-0.00086,"s":-0.0004},
{"t":"2025-03-31T00:00","m":-0.0009,"s":-0.00062},{"t":"2025-03-31T12:00","m":-0.0009,"s":-0.00078},
{"t":"2025-04-01T00:00","m":-0.00072,"s":-0.0008},{"t":"2025-04-01T12:00","m":-0.0005,"s":-0.00075},
{"t":"2025-04-02T00:00","m":-0.0003,"s":-0.0006},{"t":"2025-04-02T12:00","m":-0.00027,"s":-0.00052},
{"t":"2025-04-03T00:00","m":-0.00038,"s":-0.00043},{"t":"2025-04-03T12:00","m":-0.00052,"s":-0.00041},
{"t":"2025-04-04T00:00","m":-0.00059,"s":-0.0004},{"t":"2025-04-04T12:00","m":-0.0004,"s":-0.00033},
{"t":"2025-04-05T00:00","m":-0.00022,"s":-0.00026},{"t":"2025-04-05T12:00","m":-0.0001,"s":-0.00018},
{"t":"2025-04-06T00:00","m":-0.00002,"s":-0.00012},{"t":"2025-04-06T12:00","m":-0.00005,"s":-0.0001},
{"t":"2025-04-07T00:00","m":-0.00027,"s":-0.0001},{"t":"2025-04-07T12:00","m":-0.0009,"s":-0.0003},
{"t":"2025-04-08T00:00","m":-0.0012,"s":-0.00065},{"t":"2025-04-08T12:00","m":-0.00094,"s":-0.00085},
{"t":"2025-04-09T00:00","m":-0.00083,"s":-0.00098},{"t":"2025-04-09T12:00","m":-0.0009,"s":-0.00095},
{"t":"2025-04-10T00:00","m":-0.00073,"s":-0.0009},{"t":"2025-04-10T12:00","m":-0.00047,"s":-0.00067},
{"t":"2025-04-11T00:00","m":-0.0003,"s":-0.0005},{"t":"2025-04-11T12:00","m":0,"s":-0.0003},
{"t":"2025-04-12T00:00","m":0.00022,"s":-0.00013},{"t":"2025-04-12T12:00","m":0.00038,"s":0.00015},
{"t":"2025-04-13T00:00","m":0.00065,"s":0.00036},{"t":"2025-04-13T12:00","m":0.0008,"s":0.00049},
{"t":"2025-04-14T00:00","m":0.00062,"s":0.00059},{"t":"2025-04-14T12:00","m":0.00038,"s":0.00064},
{"t":"2025-04-15T00:00","m":0.00015,"s":0.00044},{"t":"2025-04-15T12:00","m":0.00002,"s":0.00023},
{"t":"2025-04-16T00:00","m":-0.0001,"s":0.00007},{"t":"2025-04-16T12:00","m":-0.00016,"s":-0.00002},
{"t":"2025-04-17T00:00","m":-0.00018,"s":-0.00008},{"t":"2025-04-17T12:00","m":-0.00013,"s":-0.0001},
{"t":"2025-04-18T00:00","m":-0.00008,"s":-0.00008},{"t":"2025-04-18T12:00","m":-0.00003,"s":-0.00007},
{"t":"2025-04-19T00:00","m":0,"s":-0.00006},{"t":"2025-04-19T12:00","m":0.00003,"s":-0.00005},
{"t":"2025-04-20T00:00","m":0.00005,"s":-0.00002},{"t":"2025-04-20T12:00","m":0.0001,"s":0.00001},
{"t":"2025-04-21T00:00","m":0.00014,"s":0.00005},{"t":"2025-04-21T12:00","m":0.0002,"s":0.00011},
{"t":"2025-04-22T00:00","m":0.0003,"s":0.00017},{"t":"2025-04-22T12:00","m":0.0006,"s":0.00032},
{"t":"2025-04-23T00:00","m":0.00094,"s":0.00046},{"t":"2025-04-23T12:00","m":0.0012,"s":0.00067},
{"t":"2025-04-24T00:00","m":0.0012,"s":0.0009},{"t":"2025-04-24T12:00","m":0.00107,"s":0.00104},
{"t":"2025-04-25T00:00","m":0.00102,"s":0.00105},{"t":"2025-04-25T12:00","m":0.00098,"s":0.00105},
{"t":"2025-04-26T00:00","m":0.00096,"s":0.00104},{"t":"2025-04-26T12:00","m":0.00092,"s":0.00098},
{"t":"2025-04-27T00:00","m":0.0008,"s":0.00088},{"t":"2025-04-27T12:00","m":0.00068,"s":0.0008},
{"t":"2025-04-28T00:00","m":0.0005,"s":0.00065},{"t":"2025-04-28T12:00","m":0.00034,"s":0.00048},
{"t":"2025-04-29T00:00","m":0.0002,"s":0.00033},{"t":"2025-04-29T12:00","m":0.00006,"s":0.00021},
{"t":"2025-04-30T00:00","m":-0.00005,"s":0.0001},{"t":"2025-04-30T12:00","m":-0.00013,"s":0.00003},
{"t":"2025-05-01T00:00","m":-0.00019,"s":0},{"t":"2025-05-01T12:00","m":-0.00013,"s":0.00002},
{"t":"2025-05-02T00:00","m":0.00003,"s":0.00005},{"t":"2025-05-02T12:00","m":0.00017,"s":0.00012},
{"t":"2025-05-03T00:00","m":0.00023,"s":0.00018},{"t":"2025-05-03T12:00","m":0.0002,"s":0.00018},
{"t":"2025-05-04T00:00","m":0.0001,"s":0.00013},{"t":"2025-05-04T12:00","m":-0.00006,"s":0.00005},
{"t":"2025-05-05T00:00","m":-0.00023,"s":-0.00006},{"t":"2025-05-05T12:00","m":-0.00035,"s":-0.00013},
{"t":"2025-05-06T00:00","m":-0.00044,"s":-0.00024},{"t":"2025-05-06T12:00","m":-0.0005,"s":-0.00031},
{"t":"2025-05-06T20:00","m":-0.00058,"s":-0.00036}
],
"hist":[
{"t":"2025-03-22T00:00","v":0.00003},{"t":"2025-03-22T08:00","v":-0.00003},{"t":"2025-03-22T16:00","v":0.00002},
{"t":"2025-03-23T00:00","v":0.00004},{"t":"2025-03-23T08:00","v":0.00008},{"t":"2025-03-23T16:00","v":0.00015},
{"t":"2025-03-24T00:00","v":0.0002},{"t":"2025-03-24T08:00","v":0.00025},{"t":"2025-03-24T16:00","v":0.0003},
{"t":"2025-03-25T00:00","v":0.0002},{"t":"2025-03-25T08:00","v":0.00035},{"t":"2025-03-25T16:00","v":0.0004},
{"t":"2025-03-26T00:00","v":0.00045},{"t":"2025-03-26T08:00","v":0.0005},{"t":"2025-03-26T16:00","v":0.0004},
{"t":"2025-03-27T00:00","v":0.0003},{"t":"2025-03-27T08:00","v":0.0002},{"t":"2025-03-27T16:00","v":0.0001},
{"t":"2025-03-28T00:00","v":-0.00005},{"t":"2025-03-28T08:00","v":-0.0003},{"t":"2025-03-28T16:00","v":-0.0005},
{"t":"2025-03-29T00:00","v":-0.0006},{"t":"2025-03-29T08:00","v":-0.00065},{"t":"2025-03-29T16:00","v":-0.00055},
{"t":"2025-03-30T00:00","v":-0.0004},{"t":"2025-03-30T08:00","v":-0.0003},{"t":"2025-03-30T16:00","v":-0.0002},
{"t":"2025-03-31T00:00","v":-0.00015},{"t":"2025-03-31T08:00","v":-0.0001},{"t":"2025-03-31T16:00","v":-0.00005},
{"t":"2025-04-01T00:00","v":0.00015},{"t":"2025-04-01T08:00","v":0.00025},{"t":"2025-04-01T16:00","v":0.0003},
{"t":"2025-04-02T00:00","v":0.0003},{"t":"2025-04-02T08:00","v":0.0002},{"t":"2025-04-02T16:00","v":0.0001},
{"t":"2025-04-03T00:00","v":-0.00005},{"t":"2025-04-03T08:00","v":-0.0002},{"t":"2025-04-03T16:00","v":-0.0003},
{"t":"2025-04-04T00:00","v":-0.00015},{"t":"2025-04-04T08:00","v":-0.00005},{"t":"2025-04-04T16:00","v":0.00015},
{"t":"2025-04-05T00:00","v":0.0002},{"t":"2025-04-05T08:00","v":0.0002},{"t":"2025-04-05T16:00","v":0.0001},
{"t":"2025-04-06T00:00","v":0.00005},{"t":"2025-04-06T08:00","v":0.00003},{"t":"2025-04-06T16:00","v":-0.0001},
{"t":"2025-04-07T00:00","v":-0.0003},{"t":"2025-04-07T08:00","v":-0.0005},{"t":"2025-04-07T16:00","v":-0.0007},
{"t":"2025-04-08T00:00","v":-0.0005},{"t":"2025-04-08T08:00","v":-0.0003},{"t":"2025-04-08T16:00","v":-0.0002},
{"t":"2025-04-09T00:00","v":-0.0001},{"t":"2025-04-09T08:00","v":0.00005},{"t":"2025-04-09T16:00","v":0.00015},
{"t":"2025-04-10T00:00","v":0.0003},{"t":"2025-04-10T08:00","v":0.00045},{"t":"2025-04-10T16:00","v":0.0004},
{"t":"2025-04-11T00:00","v":0.00035},{"t":"2025-04-11T08:00","v":0.0003},{"t":"2025-04-11T16:00","v":0.00025},
{"t":"2025-04-12T00:00","v":0.00025},{"t":"2025-04-12T08:00","v":0.00025},{"t":"2025-04-12T16:00","v":0.0003},
{"t":"2025-04-13T00:00","v":0.00025},{"t":"2025-04-13T08:00","v":0.00015},{"t":"2025-04-13T16:00","v":0.0001},
{"t":"2025-04-14T00:00","v":0},{"t":"2025-04-14T08:00","v":-0.0001},{"t":"2025-04-14T16:00","v":-0.0002},
{"t":"2025-04-15T00:00","v":-0.00025},{"t":"2025-04-15T08:00","v":-0.0002},{"t":"2025-04-15T16:00","v":-0.00015},
{"t":"2025-04-16T00:00","v":-0.00012},{"t":"2025-04-16T08:00","v":-0.0001},{"t":"2025-04-16T16:00","v":-0.00008},
{"t":"2025-04-17T00:00","v":-0.00005},{"t":"2025-04-17T08:00","v":-0.00003},{"t":"2025-04-17T16:00","v":0.00002},
{"t":"2025-04-18T00:00","v":0.00003},{"t":"2025-04-18T08:00","v":0.00005},{"t":"2025-04-18T16:00","v":0.0001},
{"t":"2025-04-19T00:00","v":0.00015},{"t":"2025-04-19T08:00","v":0.00018},{"t":"2025-04-19T16:00","v":0.00012},
{"t":"2025-04-20T00:00","v":0.00006},{"t":"2025-04-20T08:00","v":0.00002},{"t":"2025-04-20T16:00","v":-0.00004},
{"t":"2025-04-21T00:00","v":-0.00002},{"t":"2025-04-21T08:00","v":0.00008},{"t":"2025-04-21T16:00","v":0.00015},
{"t":"2025-04-22T00:00","v":0.0002},{"t":"2025-04-22T08:00","v":0.00028},{"t":"2025-04-22T16:00","v":0.00035},
{"t":"2025-04-23T00:00","v":0.0005},{"t":"2025-04-23T08:00","v":0.0006},{"t":"2025-04-23T16:00","v":0.00055},
{"t":"2025-04-24T00:00","v":0.00045},{"t":"2025-04-24T08:00","v":0.0003},{"t":"2025-04-24T16:00","v":0.0002},
{"t":"2025-04-25T00:00","v":0.00012},{"t":"2025-04-25T08:00","v":0.00006},{"t":"2025-04-25T16:00","v":0.00003},
{"t":"2025-04-26T00:00","v":0.00003},{"t":"2025-04-26T08:00","v":-0.00002},{"t":"2025-04-26T16:00","v":-0.00005},
{"t":"2025-04-27T00:00","v":-0.0001},{"t":"2025-04-27T08:00","v":-0.00012},{"t":"2025-04-27T16:00","v":-0.00015},
{"t":"2025-04-28T00:00","v":-0.00015},{"t":"2025-04-28T08:00","v":-0.00013},{"t":"2025-04-28T16:00","v":-0.00012},
{"t":"2025-04-29T00:00","v":-0.00015},{"t":"2025-04-29T08:00","v":-0.00016},{"t":"2025-04-29T16:00","v":-0.00014},
{"t":"2025-04-30T00:00","v":-0.00015},{"t":"2025-04-30T08:00","v":-0.00018},{"t":"2025-04-30T16:00","v":-0.0002},
{"t":"2025-05-01T00:00","v":-0.00015},{"t":"2025-05-01T08:00","v":0.00005},{"t":"2025-05-01T16:00","v":0.00015},
{"t":"2025-05-02T00:00","v":0.0002},{"t":"2025-05-02T08:00","v":0.00015},{"t":"2025-05-02T16:00","v":0.00012},
{"t":"2025-05-03T00:00","v":0.00008},{"t":"2025-05-03T08:00","v":-0.00003},{"t":"2025-05-03T16:00","v":-0.00008},
{"t":"2025-05-04T00:00","v":-0.00012},{"t":"2025-05-04T08:00","v":-0.00015},{"t":"2025-05-04T16:00","v":-0.00018},
{"t":"2025-05-05T00:00","v":-0.0002},{"t":"2025-05-05T08:00","v":-0.00018},{"t":"2025-05-05T16:00","v":-0.0002},
{"t":"2025-05-06T00:00","v":-0.00022},{"t":"2025-05-06T08:00","v":-0.00025},{"t":"2025-05-06T16:00","v":-0.00028}
]
},
"vconcat":[
{"width":856,"height":247,
 "resolve":{"axis":{"y":"independent"}},
 "encoding":{"x":{"field":"t","type":"temporal","title":null,"scale":{"domain":[{"year":2025,"month":3,"date":21,"hours":18},{"year":2025,"month":5,"date":9,"hours":19,"minutes":24}]},"axis":null}},
 "layer":[
{"data":{"name":"sma100"},"mark":{"type":"line","color":"#b8b8b8","strokeWidth":1.6},"encoding":{"y":{"field":"p","type":"quantitative","title":null,"scale":{"domain":[0.12943,0.21333],"nice":false,"zero":false},"axis":{"orient":"right","values":[0.13,0.14,0.15,0.16,0.17,0.18,0.19,0.2,0.21],"format":".5f","labelPadding":7,"labelFlush":false}}}},
{"data":{"name":"sma200"},"mark":{"type":"line","color":"#f5a31a","strokeWidth":2},"encoding":{"y":{"field":"p","type":"quantitative","title":null,"scale":{"domain":[0.12943,0.21333],"nice":false,"zero":false},"axis":null}}},
{"data":{"name":"candles"},"mark":{"type":"rule","strokeWidth":1},"encoding":{"y":{"field":"l","type":"quantitative","title":null,"scale":{"domain":[0.12943,0.21333],"nice":false,"zero":false},"axis":null},"y2":{"field":"h"},"color":{"condition":{"test":"datum.c >= datum.o","value":"#26a69a"},"value":"#ef5350"}}},
{"data":{"name":"candles"},"mark":{"type":"rule","strokeWidth":2.2},"encoding":{"y":{"field":"o","type":"quantitative","title":null,"scale":{"domain":[0.12943,0.21333],"nice":false,"zero":false},"axis":null},"y2":{"field":"c"},"color":{"condition":{"test":"datum.c >= datum.o","value":"#26a69a"},"value":"#ef5350"}}},
{"data":{"name":"trend"},"mark":{"type":"line","color":"#111111","strokeWidth":2,"strokeDash":[7,5]},"encoding":{"y":{"field":"p","type":"quantitative","title":null,"scale":{"domain":[0.12943,0.21333],"nice":false,"zero":false},"axis":null}}},
{"data":{"name":"channel"},"mark":{"type":"line","color":"#2f5be0","strokeWidth":2},"encoding":{"y":{"field":"p","type":"quantitative","title":null,"scale":{"domain":[0.12943,0.21333],"nice":false,"zero":false},"axis":null},"detail":{"field":"k","type":"nominal"}}},
{"data":{"name":"notes"},"mark":{"type":"text","align":"left","baseline":"middle","fontSize":8.1},"encoding":{"y":{"field":"p","type":"quantitative","title":null,"scale":{"domain":[0.12943,0.21333],"nice":false,"zero":false},"axis":null},"text":{"field":"label","type":"nominal"},"color":{"field":"grp","type":"nominal","legend":null,"scale":{"domain":["dark","red","sma100","sma200"],"range":["#131722","#f23645","#a6a6a6","#f5a31a"]}}}},
{"data":{"name":"lastprice"},"mark":{"type":"rule","stroke":"#f23645","strokeDash":[1,2],"strokeWidth":1},"encoding":{"x":null,"y":{"field":"p","type":"quantitative","title":null,"scale":{"domain":[0.12943,0.21333],"nice":false,"zero":false},"axis":null}}},
{"data":{"name":"pricebox"},"mark":{"type":"rect","color":"#f23645"},"encoding":{"x2":{"field":"t2"},"y":{"field":"p","type":"quantitative","title":null,"scale":{"domain":[0.12943,0.21333],"nice":false,"zero":false},"axis":null},"y2":{"field":"p2"}}},
{"data":{"name":"pricebox"},"mark":{"type":"text","align":"center","baseline":"middle","fontSize":8.5,"fontWeight":"bold","color":"#ffffff"},"encoding":{"x":{"field":"tm","type":"temporal","title":null,"scale":{"domain":[{"year":2025,"month":3,"date":21,"hours":18},{"year":2025,"month":5,"date":9,"hours":19,"minutes":24}]},"axis":null},"y":{"field":"pm","type":"quantitative","title":null,"scale":{"domain":[0.12943,0.21333],"nice":false,"zero":false},"axis":null},"text":{"field":"label","type":"nominal"}}}
]},
{"width":856,"height":40,
 "resolve":{"axis":{"y":"independent"}},
 "encoding":{"x":{"field":"t","type":"temporal","title":null,"scale":{"domain":[{"year":2025,"month":3,"date":21,"hours":18},{"year":2025,"month":5,"date":9,"hours":19,"minutes":24}]},"axis":null}},
 "layer":[
{"data":{"name":"band"},"mark":{"type":"rect","color":"#7e57c2","opacity":0.1},"encoding":{"x2":{"field":"t2"},"y":{"field":"a","type":"quantitative","title":null,"scale":{"domain":[8.7,92],"nice":false,"zero":false},"axis":null},"y2":{"field":"b"}}},
{"data":{"name":"levels"},"transform":[{"filter":"datum.k == 'edge'"}],"mark":{"type":"rule","color":"#787b86","strokeDash":[4,3],"strokeWidth":1},"encoding":{"x":null,"y":{"field":"lv","type":"quantitative","title":null,"scale":{"domain":[8.7,92],"nice":false,"zero":false},"axis":null}}},
{"data":{"name":"levels"},"transform":[{"filter":"datum.k == 'mid'"}],"mark":{"type":"rule","color":"#b4b4bc","strokeDash":[4,3],"strokeWidth":1},"encoding":{"x":null,"y":{"field":"lv","type":"quantitative","title":null,"scale":{"domain":[8.7,92],"nice":false,"zero":false},"axis":null}}},
{"data":{"name":"rsima"},"mark":{"type":"line","color":"#f3dc6a","strokeWidth":1.2},"encoding":{"y":{"field":"r","type":"quantitative","title":null,"scale":{"domain":[8.7,92],"nice":false,"zero":false},"axis":null}}},
{"data":{"name":"rsi"},"mark":{"type":"line","color":"#7e57c2","strokeWidth":1},"encoding":{"y":{"field":"r","type":"quantitative","title":null,"scale":{"domain":[8.7,92],"nice":false,"zero":false},"axis":{"orient":"right","values":[50],"format":".2f","labelPadding":7}}}}
]},
{"width":856,"height":40,
 "resolve":{"axis":{"y":"independent"}},
 "encoding":{"x":{"field":"t","type":"temporal","title":null,"scale":{"domain":[{"year":2025,"month":3,"date":21,"hours":18},{"year":2025,"month":5,"date":9,"hours":19,"minutes":24}]},"axis":{"orient":"bottom","values":[{"year":2025,"month":3,"date":25},{"year":2025,"month":3,"date":28},{"year":2025,"month":4,"date":1},{"year":2025,"month":4,"date":4},{"year":2025,"month":4,"date":7},{"year":2025,"month":4,"date":10},{"year":2025,"month":4,"date":13},{"year":2025,"month":4,"date":16},{"year":2025,"month":4,"date":19},{"year":2025,"month":4,"date":22},{"year":2025,"month":4,"date":25},{"year":2025,"month":4,"date":28},{"year":2025,"month":5,"date":1},{"year":2025,"month":5,"date":4},{"year":2025,"month":5,"date":7}],"labelExpr":"date(datum.value) == 1 ? timeFormat(datum.value, '%b') : timeFormat(datum.value, '%-d')","labelFontWeight":{"condition":{"test":"date(datum.value) == 1","value":"bold"},"value":"normal"},"labelPadding":2,"labelFlush":false,"labelOverlap":false}}},
 "layer":[
{"data":{"values":[{"lv":0}]},"mark":{"type":"rule","color":"#cccccc","strokeDash":[3,3],"strokeWidth":1},"encoding":{"x":null,"y":{"field":"lv","type":"quantitative","title":null,"scale":{"domain":[-0.00207,0.0019],"nice":false,"zero":false},"axis":null}}},
{"data":{"name":"hist"},"transform":[{"window":[{"op":"lag","field":"v","as":"pv"}],"sort":[{"field":"t","order":"ascending"}]},{"filter":"datum.v >= 0 && (datum.pv == null || datum.v >= datum.pv)"}],"mark":{"type":"bar","width":3.5,"color":"#26a69a"},"encoding":{"y":{"field":"v","type":"quantitative","title":null,"scale":{"domain":[-0.00207,0.0019],"nice":false,"zero":false},"axis":null},"y2":{"datum":0}}},
{"data":{"name":"hist"},"transform":[{"window":[{"op":"lag","field":"v","as":"pv"}],"sort":[{"field":"t","order":"ascending"}]},{"filter":"datum.v >= 0 && datum.pv != null && datum.v < datum.pv"}],"mark":{"type":"bar","width":3.5,"color":"#b2dfdb"},"encoding":{"y":{"field":"v","type":"quantitative","title":null,"scale":{"domain":[-0.00207,0.0019],"nice":false,"zero":false},"axis":null},"y2":{"datum":0}}},
{"data":{"name":"hist"},"transform":[{"window":[{"op":"lag","field":"v","as":"pv"}],"sort":[{"field":"t","order":"ascending"}]},{"filter":"datum.v < 0 && (datum.pv == null || datum.v < datum.pv)"}],"mark":{"type":"bar","width":3.5,"color":"#ff5252"},"encoding":{"y":{"field":"v","type":"quantitative","title":null,"scale":{"domain":[-0.00207,0.0019],"nice":false,"zero":false},"axis":null},"y2":{"datum":0}}},
{"data":{"name":"hist"},"transform":[{"window":[{"op":"lag","field":"v","as":"pv"}],"sort":[{"field":"t","order":"ascending"}]},{"filter":"datum.v < 0 && datum.pv != null && datum.v >= datum.pv"}],"mark":{"type":"bar","width":3.5,"color":"#ffcdd2"},"encoding":{"y":{"field":"v","type":"quantitative","title":null,"scale":{"domain":[-0.00207,0.0019],"nice":false,"zero":false},"axis":null},"y2":{"datum":0}}},
{"data":{"name":"macd"},"mark":{"type":"line","color":"#ff6d00","strokeWidth":1.2},"encoding":{"y":{"field":"s","type":"quantitative","title":null,"scale":{"domain":[-0.00207,0.0019],"nice":false,"zero":false},"axis":null}}},
{"data":{"name":"macd"},"mark":{"type":"line","color":"#2962ff","strokeWidth":1.2},"encoding":{"y":{"field":"m","type":"quantitative","title":null,"scale":{"domain":[-0.00207,0.0019],"nice":false,"zero":false},"axis":{"orient":"right","values":[0],"format":".5f","labelPadding":7}}}}
]}
]
}
